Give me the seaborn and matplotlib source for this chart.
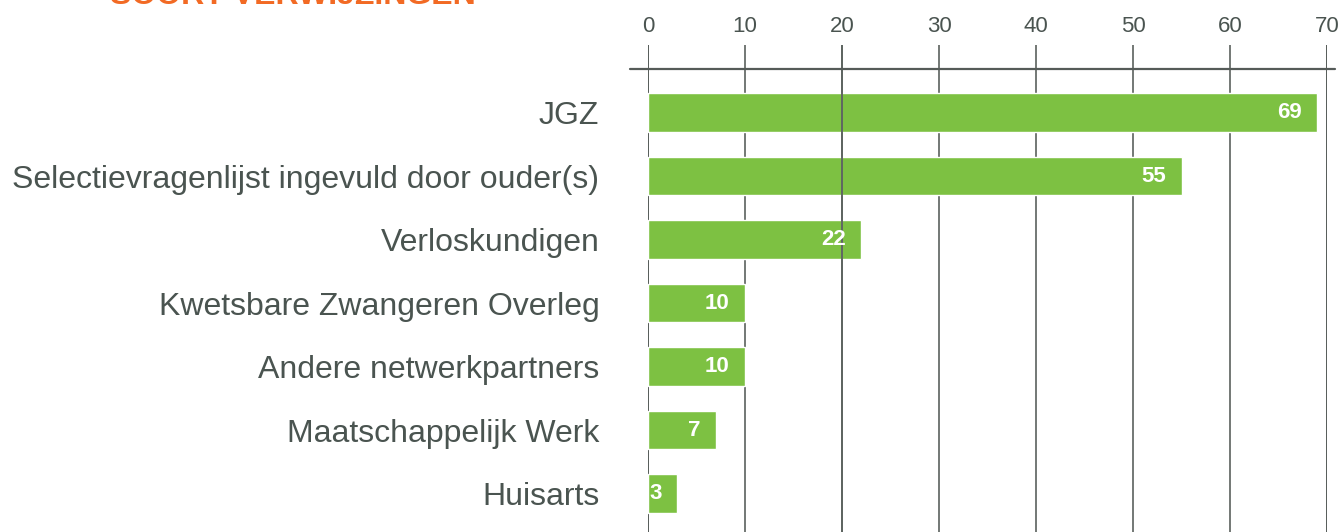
import matplotlib
matplotlib.use("Agg")
import matplotlib.pyplot as plt
import seaborn as sns
import pandas as pd

categories = ["JGZ", "Selectievragenlijst ingevuld door ouder(s)", "Verloskundigen",
              "Kwetsbare Zwangeren Overleg", "Andere netwerkpartners",
              "Maatschappelijk Werk", "Huisarts"]
values = [69, 55, 22, 10, 10, 7, 3]
xticks = [0, 10, 20, 30, 40, 50, 60, 70]

df = pd.DataFrame({"soort": categories, "aantal": values})

sns.set_theme(style="white")
plt.rcParams["font.family"] = ["Liberation Sans", "DejaVu Sans"]

text_col = "#4a5450"
grid_col = "#737875"

fig = plt.figure(figsize=(13.42, 5.32), dpi=100)
ax = fig.add_axes([648 / 1342, 0, 679 / 1342, 1 - 45 / 532])

sns.barplot(data=df, x="aantal", y="soort", orient="h", color="#7dc142",
            saturation=1, width=0.6, ax=ax, zorder=2)

ax.set_xlim(0, 70)
ax.set_ylim(6.606, -1.063)
ax.set_xticks(xticks)
ax.xaxis.tick_top()
ax.tick_params(axis="x", length=0, pad=6, labelsize=16, labelcolor=text_col)
ax.tick_params(axis="y", length=0, pad=35, labelsize=23, labelcolor=text_col)
ax.set_xlabel("")
ax.set_ylabel("")
for s in ax.spines.values():
    s.set_visible(False)

# verticale rasterlijnen
for t in xticks:
    c = "#555b58" if t in (0, 70) else grid_col
    ax.axvline(t, color=c, lw=1.4, zorder=1)
ax.axvline(20, color="#5f6662", lw=1.4, zorder=3)

# horizontale lijn onder de schaal
ax.axhline(-0.685, xmin=-0.0265, xmax=1.0118, color="#555b58", lw=1.6,
           clip_on=False, zorder=3)

for i, v in enumerate(values):
    ax.annotate(str(v), (v, i), xytext=(-11, 0), textcoords="offset points",
                ha="right", va="center", color="white", fontsize=16,
                fontweight="bold", zorder=4, annotation_clip=False)

fig.text(110 / 1342, 1 - 3.5 / 532, "SOORT VERWIJZINGEN", color="#f26a24",
         fontsize=23, fontweight="bold", ha="left", va="baseline")

fig.savefig("out.png", dpi=100)
